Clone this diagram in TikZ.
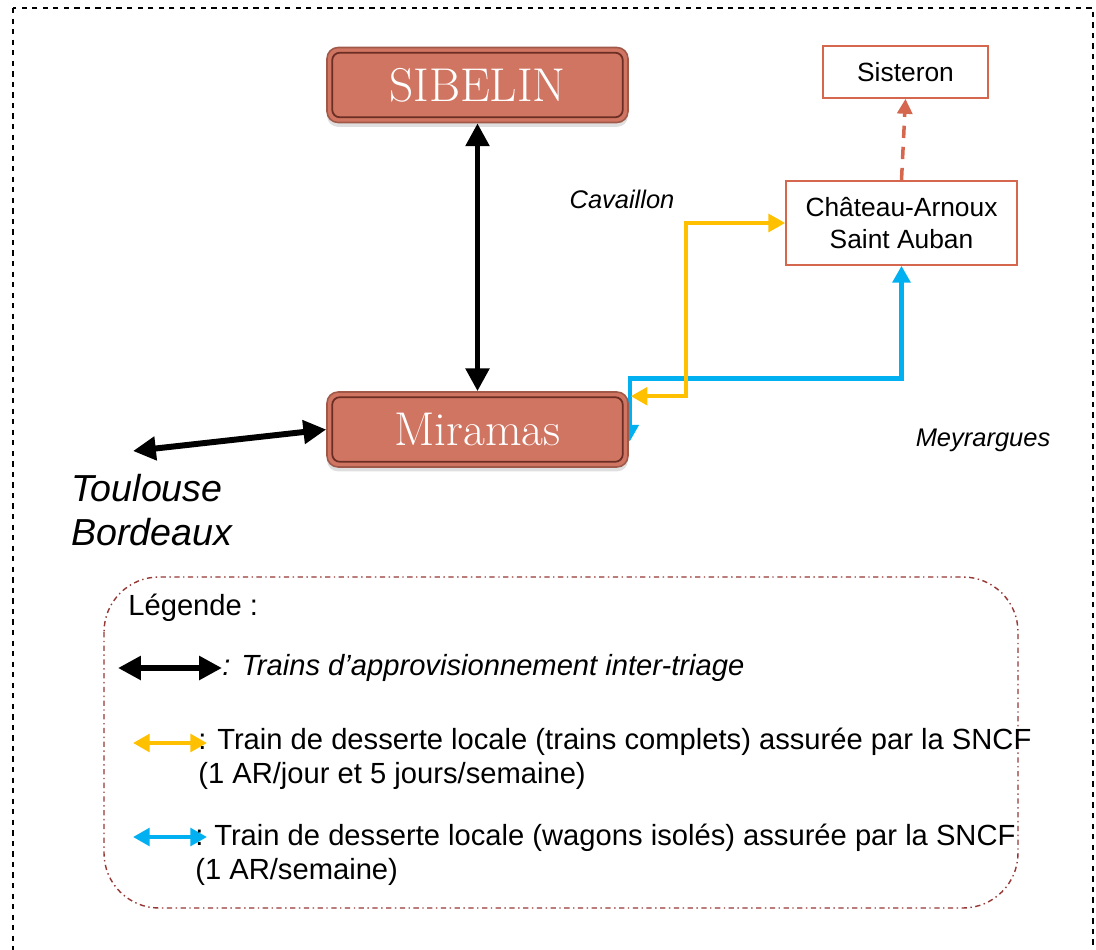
\documentclass[tikz,border=0pt]{standalone}
\usepackage{fontspec}
\setsansfont{Liberation Sans}
\usetikzlibrary{arrows.meta,calc,shadows,backgrounds}

\definecolor{brique}{HTML}{D07562}
\definecolor{briqueborder}{HTML}{A05848}
\definecolor{briquedark}{HTML}{6B2E24}
\definecolor{rouille}{HTML}{D5674F}
\definecolor{jaune}{HTML}{FFC000}
\definecolor{bleu}{HTML}{00B0F0}
\definecolor{legendframe}{HTML}{953735}

\begin{document}
\begin{tikzpicture}[
      x=0.02cm,
      y=-0.02cm,
      yard/.style={
        draw=briqueborder,
        line width=0.9pt,
        fill=brique,
        rounded corners=0.22cm,
        minimum width=6.02cm,
        minimum height=1.5cm,
        inner sep=0pt,
        text=white,
        font=\fontsize{27}{30}\selectfont,
        drop shadow={opacity=0.25,shadow xshift=0pt,shadow yshift=-2.5pt}
      },
      yardinner/.style={
        draw=briquedark,
        line width=1pt,
        rounded corners=0.15cm
      },
      station/.style={
        draw=rouille,
        line width=1pt,
        inner sep=0pt,
        align=center,
        font=\sffamily\fontsize{15}{18}\selectfont
      },
      town/.style={
        inner sep=0pt,
        font=\sffamily\itshape\fontsize{14.5}{17}\selectfont
      },
      legend/.style={
        inner sep=0pt,
        anchor=west,
        align=left,
        font=\sffamily\fontsize{16.6}{19.5}\selectfont
      },
      interyard/.style={
        {Triangle[length=13pt,width=13pt]}-{Triangle[length=13pt,width=13pt]},
        line width=3.4pt
      },
      localtrain/.style={
        {Triangle[length=9.5pt,width=10pt]}-{Triangle[length=9.5pt,width=10pt]},
        line width=2.3pt
      },
      extension/.style={
        -{Triangle[length=8.5pt,width=8.5pt]},
        line width=2pt,
        rouille,
        dash pattern=on 7pt off 5pt
      }
    ]
      \useasboundingbox (0,0) rectangle (1096,950);
      \draw[dashed,line width=0.6pt] (13,8) rectangle (1093,980);

      % yards
      \node[yard] (sib) at (477.5,85) {SIBELIN};
      \node[yard] (mir) at (477.5,429.5) {Miramas};
      \foreach \n in {sib,mir}
        \draw[yardinner] ([shift={(6,6)}]\n.north west) rectangle ([shift={(-6,-6)}]\n.south east);

      % stations
      \node[station,minimum width=3.3cm,minimum height=1.04cm] (sis) at (905.5,72) {Sisteron};
      \node[station,minimum width=4.62cm,minimum height=1.68cm] (cha) at (901.5,223) {Château-Arnoux\\Saint Auban};

      \node[town] (cav) at (622,199) {Cavaillon};
      \node[town] (mey) at (983,440) {Meyrargues};
      \node[anchor=west,align=left,inner sep=0pt,font=\sffamily\itshape\fontsize{21.4}{25}\selectfont] (tlse) at (71,510) {Toulouse\\Bordeaux};

      \coordinate (west) at (133,451);
      \coordinate (yellowend) at ($(mir.north east)+(2,5)$);
      \coordinate (blueend) at ($(mir.east)+(1,12)$);

      \begin{scope}[on background layer]
        \draw[localtrain,bleu] (blueend) -- ++(0,-63) -| (cha.south);
      \end{scope}
      \draw[interyard] (sib.south) -- (mir.north);
      \draw[interyard] (west) -- (mir.west);
      \draw[localtrain,jaune] (yellowend) -- ++(55,0) |- (cha.west);
      \draw[extension] (cha.north) -- (sis.south);

      % legend
      \draw[legendframe,line width=0.8pt,dash dot,rounded corners=1.1cm] (104,577) rectangle (1018,908);
      \node[legend] (legtitle) at (128,608) {Légende :};

      \coordinate (l1a) at (118,668);
      \coordinate (l1b) at (222,668);
      \coordinate (l2a) at (133,743);
      \coordinate (l2b) at (207,743);
      \coordinate (l3a) at (133,837);
      \coordinate (l3b) at (207,837);
      \draw[interyard] (l1a) -- (l1b);
      \draw[localtrain,jaune] (l2a) -- (l2b);
      \draw[localtrain,bleu] (l3a) -- (l3b);

      \node[legend,font=\sffamily\itshape\fontsize{16.6}{19.5}\selectfont] (leg1) at (222,668) {: Trains d’approvisionnement inter-triage};
      \node[legend] (leg2) at (198,759) {: Train de desserte locale (trains complets) assurée par la SNCF\\(1 AR/jour et 5 jours/semaine)};
      \node[legend] (leg3) at (195,855) {: Train de desserte locale (wagons isolés) assurée par la SNCF\\(1 AR/semaine)};
    \end{tikzpicture}
\end{document}
